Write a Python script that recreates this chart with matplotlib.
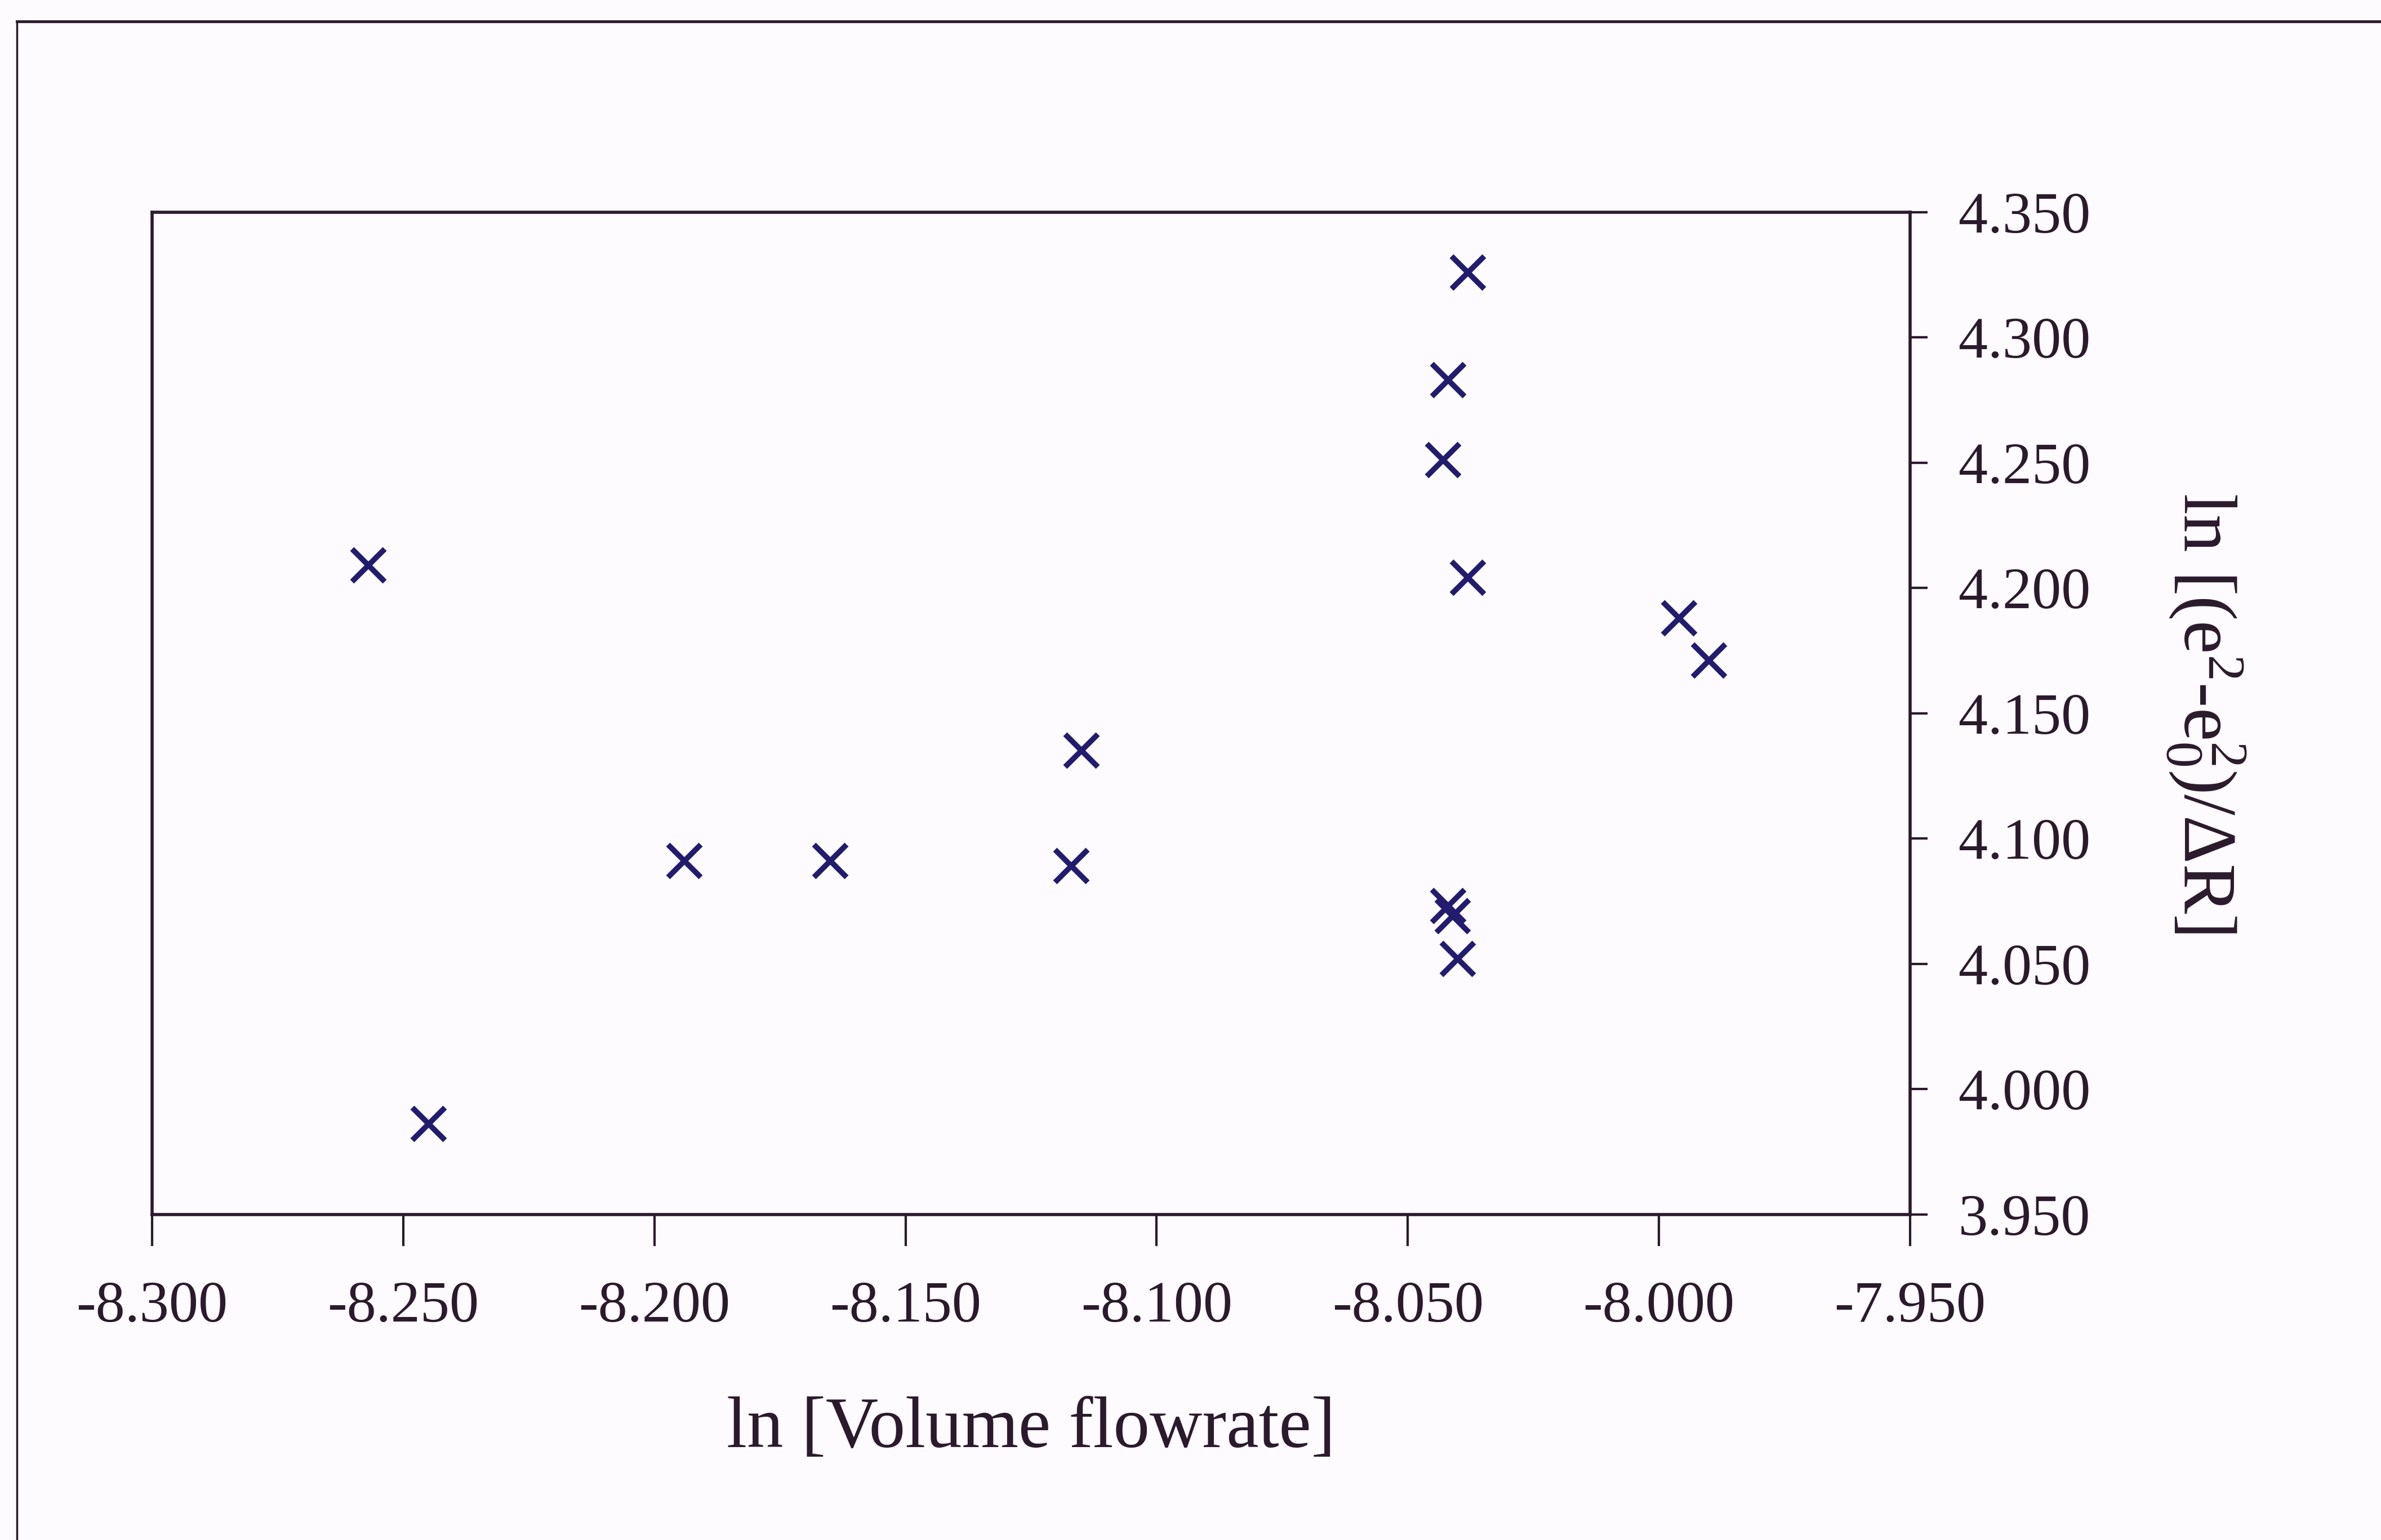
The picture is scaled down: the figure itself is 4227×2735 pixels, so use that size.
import matplotlib
matplotlib.use("Agg")
import matplotlib.pyplot as plt
from matplotlib.lines import Line2D

# ln(volume flowrate) vs ln[(e^2 - e0^2)/dR]
flow_ln = [-8.257, -8.245, -8.194, -8.165, -8.117, -8.115,
           -8.038, -8.042, -8.043, -8.038, -7.996, -7.990,
           -8.042, -8.041, -8.040]
signal_ln = [4.209, 3.986, 4.091, 4.091, 4.089, 4.135,
             4.326, 4.283, 4.251, 4.204, 4.188, 4.171,
             4.073, 4.069, 4.052]

x_ticks = [-8.300, -8.250, -8.200, -8.150, -8.100, -8.050, -8.000, -7.950]
y_ticks = [3.950, 4.000, 4.050, 4.100, 4.150, 4.200, 4.250, 4.300, 4.350]

INK = "#2b1a2c"
MARK = "#231c6e"

plt.rcParams["font.family"] = ["Liberation Serif", "DejaVu Serif"]
plt.rcParams["axes.unicode_minus"] = False
plt.rcParams["mathtext.fontset"] = "custom"
plt.rcParams["mathtext.rm"] = "Liberation Serif"
plt.rcParams["mathtext.it"] = "Liberation Serif"
plt.rcParams["mathtext.default"] = "regular"

fig = plt.figure(figsize=(42.27, 27.35), dpi=100)
fig.patch.set_facecolor("#fdfbfd")

# scanned page frame
fig.add_artist(Line2D([0.007, 1.0], [0.986, 0.986], color=INK, lw=3.5))
fig.add_artist(Line2D([0.007, 0.007], [0.0, 0.986], color=INK, lw=2.5))

ax = fig.add_axes([0.0639, 0.2115, 0.7383, 0.6507])
ax.set_facecolor("none")
ax.plot(flow_ln, signal_ln, linestyle="none", marker="x",
        markersize=42, markeredgewidth=7, color=MARK)

ax.set_xlim(x_ticks[0], x_ticks[-1])
ax.set_ylim(y_ticks[0], y_ticks[-1])
ax.set_xticks(x_ticks)
ax.set_yticks(y_ticks)
ax.set_xticklabels([f"{v:.3f}" for v in x_ticks])
ax.set_yticklabels([f"{v:.3f}" for v in y_ticks])

for s in ax.spines.values():
    s.set_color(INK)
    s.set_linewidth(4)

ax.yaxis.tick_right()
ax.tick_params(axis="x", direction="out", length=40, width=3, pad=45,
               colors=INK, labelsize=75, top=False)
ax.tick_params(axis="y", direction="out", length=22, width=3, pad=40,
               colors=INK, labelsize=75, left=False, right=True)

ax.set_xlabel("ln [Volume flowrate]", fontsize=93, color=INK, labelpad=80)
ax.yaxis.set_label_position("right")
ax.set_ylabel(r"ln [(e$^{2}$-e$_{0}^{2}$)/ΔR]", fontsize=96, color=INK,
              rotation=270, labelpad=200)

fig.savefig("out.png", dpi=100, facecolor=fig.get_facecolor())
plt.close(fig)
